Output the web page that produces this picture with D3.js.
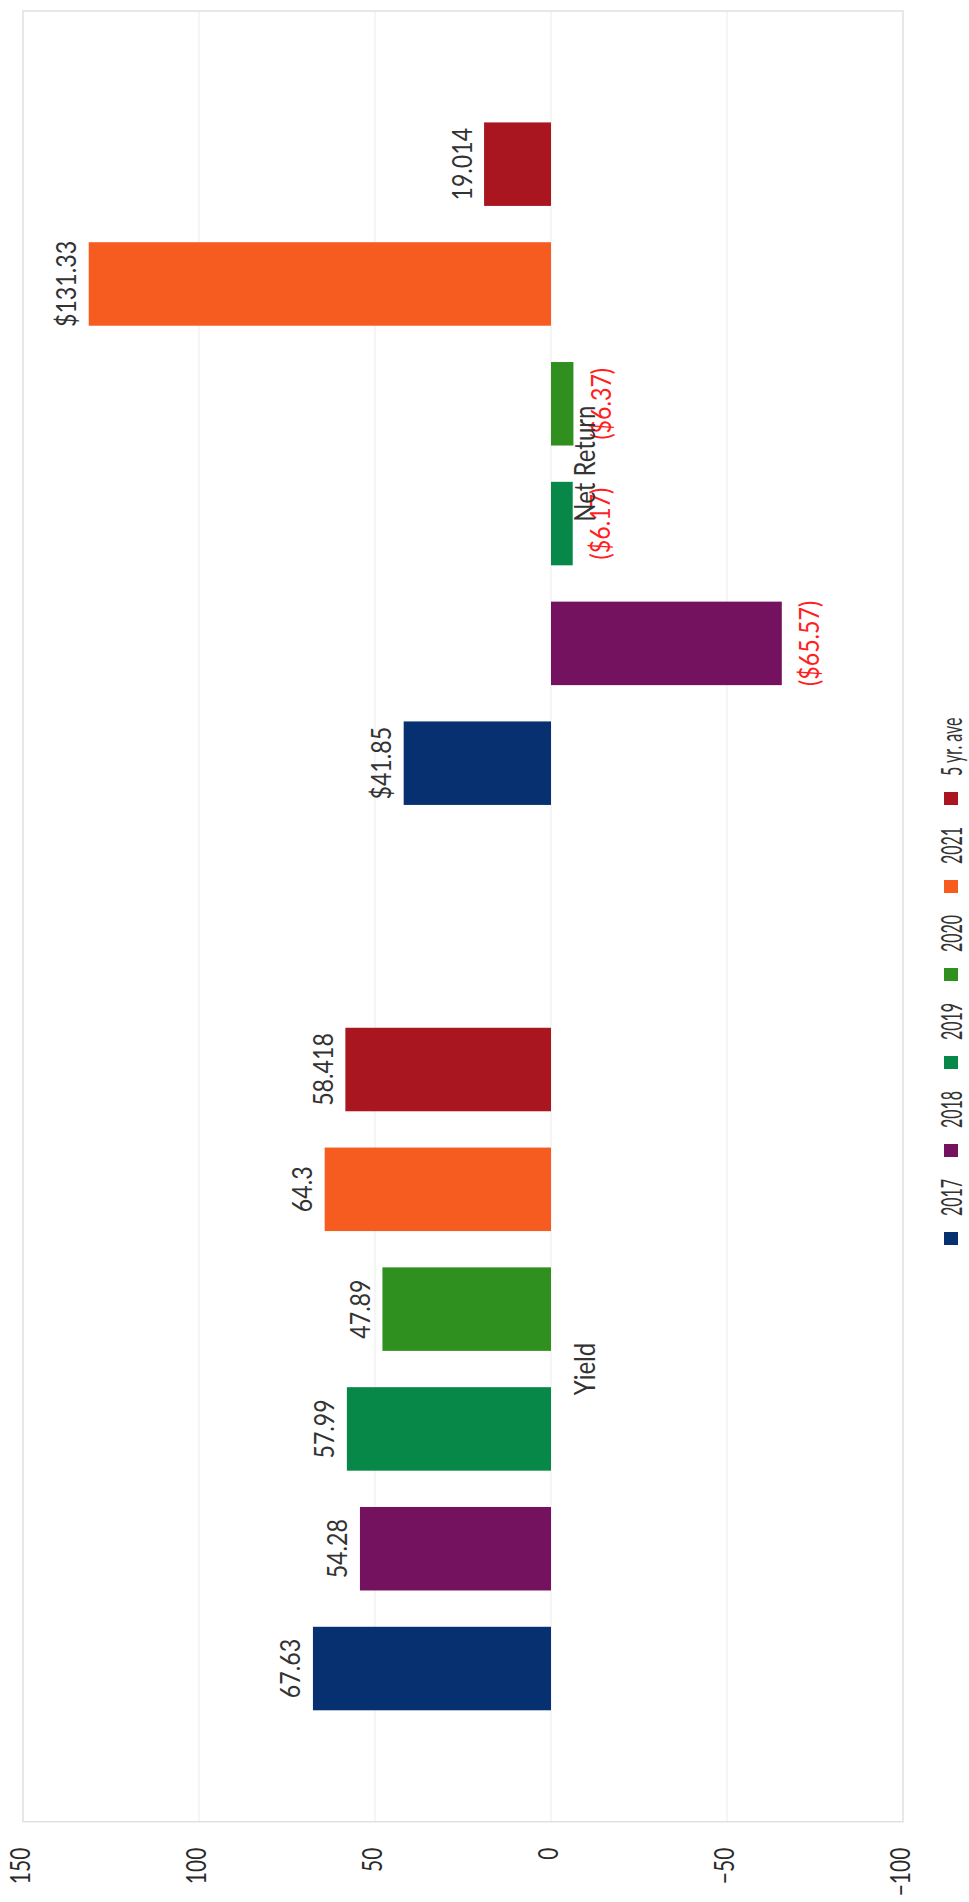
<!DOCTYPE html>
<html><head><meta charset="utf-8">
<script src="https://cdn.jsdelivr.net/npm/d3@7"></script>
<style>html,body{margin:0;padding:0;background:#fff;} svg{display:block}</style>
</head><body>
<svg id="chart" width="969" height="1902"></svg>
<script>
const categories = ["Yield", "Net Return"];
const seriesNames = ["2017", "2018", "2019", "2020", "2021", "5 yr. ave"];
const yieldValues = [67.63, 54.28, 57.99, 47.89, 64.3, 58.418];
const netReturnValues = [41.85, -65.57, -6.17, -6.37, 131.33, 19.014];
const yieldLabels = ["67.63", "54.28", "57.99", "47.89", "64.3", "58.418"];
const netReturnLabels = ["$41.85", "($65.57)", "($6.17)", "($6.37)", "$131.33", "19.014"];
const seriesColors = ["#06306f", "#74125f", "#078848", "#2f901f", "#f65b20", "#a9161f"];
const valueTicks = [150, 100, 50, 0, -50, -100];

const W = 1902; // unrotated chart width (page height)
const FONT = "Lato, 'Open Sans', sans-serif";
const svg = d3.select("#chart");
svg.append("rect").attr("width", 969).attr("height", 1902).attr("fill", "#fff");
const g = svg.append("g").attr("transform", `translate(0,${W}) rotate(-90)`);

const plot = {left: 80.3, right: 1891, top: 23, bottom: 903};
const x0 = d3.scaleBand().domain(categories).range([plot.left, plot.right]).padding(0);
const x1 = d3.scaleBand().domain(seriesNames).range([0, x0.bandwidth()])
  .paddingInner(0.303).paddingOuter(0.93);
const y = d3.scaleLinear().domain([-100, 150]).range([plot.bottom, plot.top]);
const color = d3.scaleOrdinal().domain(seriesNames).range(seriesColors);

// gridlines
g.append("g").selectAll("line").data(valueTicks.filter(t => t !== 150 && t !== -100)).join("line")
  .attr("x1", plot.left).attr("x2", plot.right)
  .attr("y1", d => y(d)).attr("y2", d => y(d))
  .attr("stroke", "#eeeeee").attr("stroke-width", 1.2);

// frame
g.append("rect").attr("x", plot.left).attr("y", plot.top)
  .attr("width", plot.right - plot.left).attr("height", plot.bottom - plot.top)
  .attr("fill", "none").attr("stroke", "#e0e0e0").attr("stroke-width", 1.5);

// value axis
const yAxis = g.append("g").attr("transform", `translate(${plot.left},0)`)
  .call(d3.axisLeft(y).tickValues(valueTicks).tickSize(0).tickPadding(26).tickFormat(d3.format("d")));
yAxis.select(".domain").remove();
yAxis.selectAll("text")
  .attr("font-family", FONT).attr("font-size", 21).attr("fill", "#2a2a2a")
  .attr("transform", "scale(1,1.33)").attr("dy", "0.24em");

const data = [];
categories.forEach((cat, ci) => {
  const vals = ci === 0 ? yieldValues : netReturnValues;
  const labs = ci === 0 ? yieldLabels : netReturnLabels;
  seriesNames.forEach((s, si) => data.push({cat, s, v: vals[si], label: labs[si]}));
});

// bars
g.append("g").selectAll("rect").data(data).join("rect")
  .attr("x", d => x0(d.cat) + x1(d.s))
  .attr("width", x1.bandwidth())
  .attr("y", d => Math.min(y(d.v), y(0)))
  .attr("height", d => Math.abs(y(d.v) - y(0)))
  .attr("fill", d => color(d.s));

// data labels
g.append("g").selectAll("text").data(data).join("text")
  .attr("transform", d => {
    const cx = x0(d.cat) + x1(d.s) + x1.bandwidth() / 2;
    const by = d.v >= 0 ? y(d.v) - 12.5 : y(d.v) + 37.5;
    return `translate(${cx},${by}) scale(1,1.2)`;
  })
  .attr("text-anchor", "middle")
  .attr("font-family", FONT).attr("font-size", 23.2)
  .attr("fill", d => d.v < 0 ? "#ff1f1f" : "#333")
  .text(d => d.label);

// category labels
g.append("g").selectAll("text").data(categories).join("text")
  .attr("transform", d => `translate(${x0(d) + x0.bandwidth() / 2},${y(0) + 44}) scale(1,1.17)`)
  .attr("text-anchor", "middle")
  .attr("font-family", FONT).attr("font-size", 24).attr("fill", "#333")
  .text(d => d);

// legend
const legStart = 657, legPitch = 88;
const leg = g.append("g").selectAll("g").data(seriesNames).join("g")
  .attr("transform", (d, i) => `translate(${legStart + i * legPitch},0)`);
leg.append("rect").attr("x", 0).attr("y", 944).attr("width", 13).attr("height", 14)
  .attr("fill", d => color(d));
leg.append("text")
  .attr("transform", "translate(29,962) scale(1,1.75)")
  .attr("font-family", FONT).attr("font-size", 16).attr("fill", "#333")
  .text(d => d);
</script>
</body></html>
